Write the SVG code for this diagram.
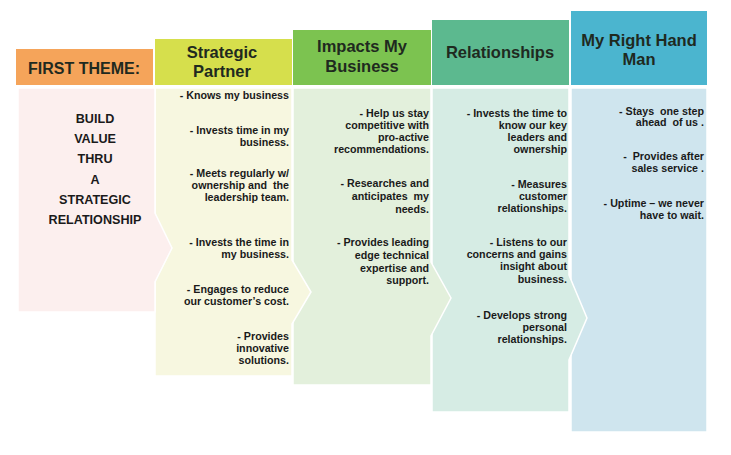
<svg xmlns="http://www.w3.org/2000/svg" width="731" height="455" viewBox="0 0 731 455">
<style>
.hd{font-family:"Liberation Sans",Arial,sans-serif;font-weight:bold;font-size:16.5px;fill:#1f2a1f;text-anchor:middle}
.bd{font-family:"Liberation Sans",Arial,sans-serif;font-weight:bold;font-size:10.7px;fill:#1a1a1a;text-anchor:end;white-space:pre}
.ft{font-family:"Liberation Sans",Arial,sans-serif;font-weight:bold;font-size:12.6px;fill:#1a1a1a;text-anchor:middle}
.pn{stroke:#ffffff;stroke-width:1.5}
</style>
<rect width="731" height="455" fill="#ffffff"/>
<g id="panels">
<path class="pn" fill="#cfe5ee" d="M571,88 H707 V432 H571 Z"/>
<path class="pn" fill="#d6ece4" d="M432,88 H569 V275 L587,318 L569,360 V412 H432 Z"/>
<path class="pn" fill="#e3f0dc" d="M293,88 H431 V262 L451,298 L431,336 V385 H293 Z"/>
<path class="pn" fill="#f7f7e0" d="M155,88 H292 V260 L311,292 L292,324 V376 H155 Z"/>
<path class="pn" fill="#fcefee" d="M18,88 H155 V213 L172,248 L155,282 V312 H18 Z"/>
</g>
<g id="theme">
<rect x="16" y="49" width="137" height="36" fill="#f5a45a"/>
<text class="hd" x="84" y="74" style="font-size:16px">FIRST THEME:</text>
<text class="ft" x="95" y="123">BUILD</text>
<text class="ft" x="95" y="143">VALUE</text>
<text class="ft" x="95" y="163">THRU</text>
<text class="ft" x="95" y="184">A</text>
<text class="ft" x="95" y="204">STRATEGIC</text>
<text class="ft" x="95" y="224">RELATIONSHIP</text>
</g>
<g id="strategic">
<rect x="155" y="39" width="137" height="46" fill="#d6df4c"/>
<text class="hd" x="222" y="58">Strategic</text>
<text class="hd" x="222" y="77">Partner</text>
<text class="bd" x="289" y="99">- Knows my business</text>
<text class="bd" x="289" y="134">- Invests time in my</text>
<text class="bd" x="289" y="146">business.</text>
<text class="bd" x="289" y="177">- Meets regularly w/</text>
<text class="bd" x="289" y="189">ownership and  the</text>
<text class="bd" x="289" y="201">leadership team.</text>
<text class="bd" x="289" y="246">- Invests the time in</text>
<text class="bd" x="289" y="258">my business.</text>
<text class="bd" x="289" y="293">- Engages to reduce</text>
<text class="bd" x="289" y="305">our customer’s cost.</text>
<text class="bd" x="289" y="340">- Provides</text>
<text class="bd" x="289" y="352">innovative</text>
<text class="bd" x="289" y="364">solutions.</text>
</g>
<g id="impacts">
<rect x="293" y="30" width="138" height="55" fill="#7cc350"/>
<text class="hd" x="362" y="52">Impacts My</text>
<text class="hd" x="362" y="72">Business</text>
<text class="bd" x="429" y="117">- Help us stay</text>
<text class="bd" x="429" y="129">competitive with</text>
<text class="bd" x="429" y="141">pro-active</text>
<text class="bd" x="429" y="153">recommendations.</text>
<text class="bd" x="429" y="187">- Researches and</text>
<text class="bd" x="429" y="200">anticipates  my</text>
<text class="bd" x="429" y="213">needs.</text>
<text class="bd" x="429" y="246">- Provides leading</text>
<text class="bd" x="429" y="259">edge technical</text>
<text class="bd" x="429" y="272">expertise and</text>
<text class="bd" x="429" y="284">support.</text>
</g>
<g id="relationships">
<rect x="432" y="20" width="137" height="65" fill="#5cb98f"/>
<text class="hd" x="500" y="58">Relationships</text>
<text class="bd" x="567" y="117">- Invests the time to</text>
<text class="bd" x="567" y="129">know our key</text>
<text class="bd" x="567" y="141">leaders and</text>
<text class="bd" x="567" y="153">ownership</text>
<text class="bd" x="567" y="188">- Measures</text>
<text class="bd" x="567" y="200">customer</text>
<text class="bd" x="567" y="212">relationships.</text>
<text class="bd" x="567" y="246">- Listens to our</text>
<text class="bd" x="567" y="258">concerns and gains</text>
<text class="bd" x="567" y="270">insight about</text>
<text class="bd" x="567" y="283">business.</text>
<text class="bd" x="567" y="319">- Develops strong</text>
<text class="bd" x="567" y="331">personal</text>
<text class="bd" x="567" y="343">relationships.</text>
</g>
<g id="righthand">
<rect x="571" y="11" width="136" height="74" fill="#4bb5cf"/>
<text class="hd" x="639" y="46">My Right Hand</text>
<text class="hd" x="639" y="65">Man</text>
<text class="bd" x="704" y="115">- Stays  one step</text>
<text class="bd" x="704" y="126">ahead  of us .</text>
<text class="bd" x="704" y="160">-  Provides after</text>
<text class="bd" x="704" y="172">sales service .</text>
<text class="bd" x="704" y="207">- Uptime – we never</text>
<text class="bd" x="704" y="219">have to wait.</text>
</g>
</svg>
